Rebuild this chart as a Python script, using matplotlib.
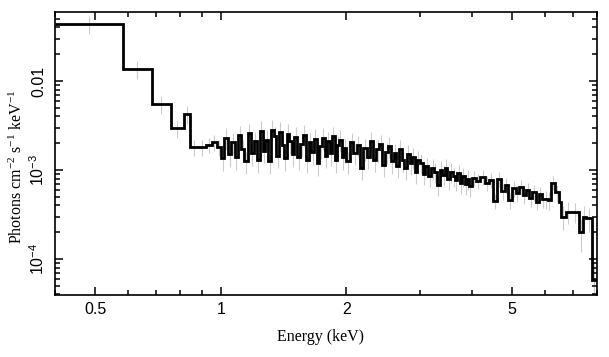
import numpy as np
import matplotlib
matplotlib.use("Agg")
import matplotlib.pyplot as plt
from matplotlib.ticker import FixedLocator, LogLocator, NullFormatter

# -------------------------
# DATA
# -------------------------
# bin edges in keV
edges = [
    0.40, 0.581, 0.682, 0.758, 0.815, 0.842,
    0.880, 0.920, 0.953, 0.978,
    1.00, 1.02, 1.04, 1.06, 1.08, 1.10, 1.12, 1.14, 1.16, 1.18,
    1.20, 1.22, 1.24, 1.26, 1.28, 1.30, 1.32, 1.34, 1.36, 1.38,
    1.40, 1.42, 1.44, 1.46, 1.48,
    1.500, 1.525, 1.550, 1.575, 1.600, 1.625, 1.650, 1.675, 1.700, 1.725,
    1.750, 1.775, 1.800, 1.825, 1.850, 1.875, 1.900, 1.925, 1.950, 1.975,
    2.00, 2.04, 2.08, 2.12, 2.16, 2.20, 2.24, 2.28, 2.32, 2.36,
    2.40, 2.44, 2.48, 2.52, 2.56, 2.60, 2.64, 2.68, 2.72, 2.76,
    2.80, 2.84, 2.88, 2.92, 2.96,
    3.00, 3.05, 3.10, 3.15, 3.20, 3.25, 3.30, 3.35, 3.40, 3.45,
    3.50, 3.55, 3.60, 3.65, 3.70, 3.75, 3.80, 3.85, 3.90, 3.95,
    4.0, 4.1, 4.2, 4.3, 4.4, 4.5, 4.6, 4.7, 4.8, 4.9,
    5.0, 5.1, 5.2, 5.3, 5.4, 5.5, 5.6, 5.7, 5.8, 5.9,
    6.0, 6.1, 6.2, 6.35, 6.47, 6.55, 6.73, 6.92, 7.23, 7.39, 7.52, 7.77, 8.0,
]

# flux per bin, in units of 1e-3 photons cm^-2 s^-1 keV^-1
flux_e3 = [
    43.7, 13.65, 5.52, 2.96, 4.26,
    1.81, 1.80, 1.92, 2.05, 1.80,
    1.36, 2.30, 1.50, 2.05, 1.40, 2.45, 1.70, 1.25, 2.60, 1.55,
    2.10, 1.30, 2.75, 1.65, 2.20, 1.25, 2.85, 2.40, 1.45, 2.70,
    1.90, 1.35, 2.55, 2.10, 1.50,
    2.35, 1.40, 1.95, 2.50, 1.30, 2.05, 1.60, 2.25, 1.20, 1.85,
    2.30, 1.45, 2.10, 1.55, 2.40, 1.30, 1.90, 2.20, 1.40, 1.75,
    1.25, 2.05, 1.55, 1.90, 1.05, 1.75, 1.40, 2.10, 1.30, 1.70,
    1.95, 1.15, 1.60, 1.85, 1.25, 1.55, 1.10, 1.70, 1.30, 1.05,
    1.50, 1.20, 1.40, 0.95, 1.30,
    1.20, 0.90, 1.10, 0.85, 1.05, 0.95, 0.68, 1.00, 0.88, 1.05,
    0.80, 0.95, 0.85, 0.78, 0.92, 0.72, 0.85, 0.70, 0.80, 0.66,
    0.82, 0.76, 0.84, 0.72, 0.78, 0.45, 0.80, 0.58, 0.68, 0.46,
    0.62, 0.55, 0.64, 0.52, 0.60, 0.48, 0.56, 0.44, 0.54, 0.47,
    0.47, 0.46, 0.72, 0.56, 0.44, 0.30, 0.34, 0.34, 0.20, 0.30, 0.29, 0.058,
]

# relative error per bin
rel_err = [
    0.22, 0.22, 0.22, 0.22, 0.22,
    0.20, 0.20, 0.20, 0.20, 0.20,
    0.28, 0.28, 0.28, 0.28, 0.28, 0.28, 0.28, 0.28, 0.28, 0.28,
    0.28, 0.28, 0.28, 0.28, 0.28, 0.28, 0.28, 0.28, 0.28, 0.28,
    0.28, 0.28, 0.28, 0.28, 0.28,
    0.28, 0.28, 0.28, 0.28, 0.28, 0.28, 0.28, 0.28, 0.28, 0.28,
    0.28, 0.28, 0.28, 0.28, 0.28, 0.28, 0.28, 0.28, 0.28, 0.28,
    0.27, 0.27, 0.27, 0.27, 0.27, 0.27, 0.27, 0.27, 0.27, 0.27,
    0.27, 0.27, 0.27, 0.27, 0.27, 0.27, 0.27, 0.27, 0.27, 0.27,
    0.27, 0.27, 0.27, 0.27, 0.27,
    0.25, 0.25, 0.25, 0.25, 0.25, 0.25, 0.25, 0.25, 0.25, 0.25,
    0.25, 0.25, 0.25, 0.25, 0.25, 0.25, 0.25, 0.25, 0.25, 0.25,
    0.20, 0.20, 0.20, 0.20, 0.20, 0.20, 0.20, 0.20, 0.20, 0.20,
    0.20, 0.20, 0.20, 0.20, 0.20, 0.20, 0.20, 0.20, 0.20, 0.20,
    0.22, 0.22, 0.18, 0.22, 0.25, 0.30, 0.28, 0.25, 0.40, 0.30, 0.30, 0.50,
]

x_ticks = [0.5, 1, 2, 5]
x_ticklabels = ["0.5", "1", "2", "5"]
y_ticks = [1e-4, 1e-3, 1e-2]
y_ticklabels = [r"$\mathregular{10^{-4}}$", r"$\mathregular{10^{-3}}$", "0.01"]

edges = np.array(edges)
flux = np.array(flux_e3) * 1e-3
rel_err = np.array(rel_err)
centers = np.sqrt(edges[:-1] * edges[1:])

# -------------------------
# PLOT
# -------------------------
fig = plt.figure(figsize=(6.09, 3.57), dpi=100)
ax = fig.add_axes([0.0903, 0.1737, 0.8900, 0.7927])

ax.vlines(centers, flux * (1 - rel_err), flux * (1 + rel_err),
          color="#cccccc", lw=0.8, zorder=1)
ax.stairs(flux, edges, color="black", lw=2.0, baseline=None, zorder=2)

ax.set_xscale("log")
ax.set_yscale("log")
ax.set_xlim(0.4, 8.0)
ax.set_ylim(3.94e-5, 0.0596)

ax.xaxis.set_major_locator(FixedLocator(x_ticks))
ax.xaxis.set_minor_locator(LogLocator(base=10, subs=np.arange(2, 10)))
ax.xaxis.set_minor_formatter(NullFormatter())
ax.set_xticklabels(x_ticklabels, fontfamily="Liberation Sans", fontsize=11.5)

ax.yaxis.set_major_locator(FixedLocator(y_ticks))
ax.yaxis.set_minor_locator(LogLocator(base=10, subs=np.arange(2, 10)))
ax.yaxis.set_minor_formatter(NullFormatter())
ax.set_yticklabels(y_ticklabels, fontfamily="Liberation Sans", fontsize=11.5,
                   rotation=90, va="center")

ax.tick_params(which="both", direction="in", top=True, right=True, width=1.1)
ax.tick_params(which="major", length=6)
ax.tick_params(which="minor", length=3.5)
ax.tick_params(axis="x", pad=5)
ax.tick_params(axis="y", pad=6)

for s in ax.spines.values():
    s.set_linewidth(1.2)

ax.set_xlabel("Energy (keV)", fontfamily="Liberation Serif", fontsize=11.5)
ax.xaxis.set_label_coords(0.49, -0.12)
ax.set_ylabel(r"Photons cm$\mathregular{^{-2}}$ s$\mathregular{^{-1}}$ keV$\mathregular{^{-1}}$",
              fontfamily="Liberation Serif", fontsize=11.5)
ax.yaxis.set_label_coords(-0.0535, 0.452)

fig.savefig("out.png", dpi=100)
